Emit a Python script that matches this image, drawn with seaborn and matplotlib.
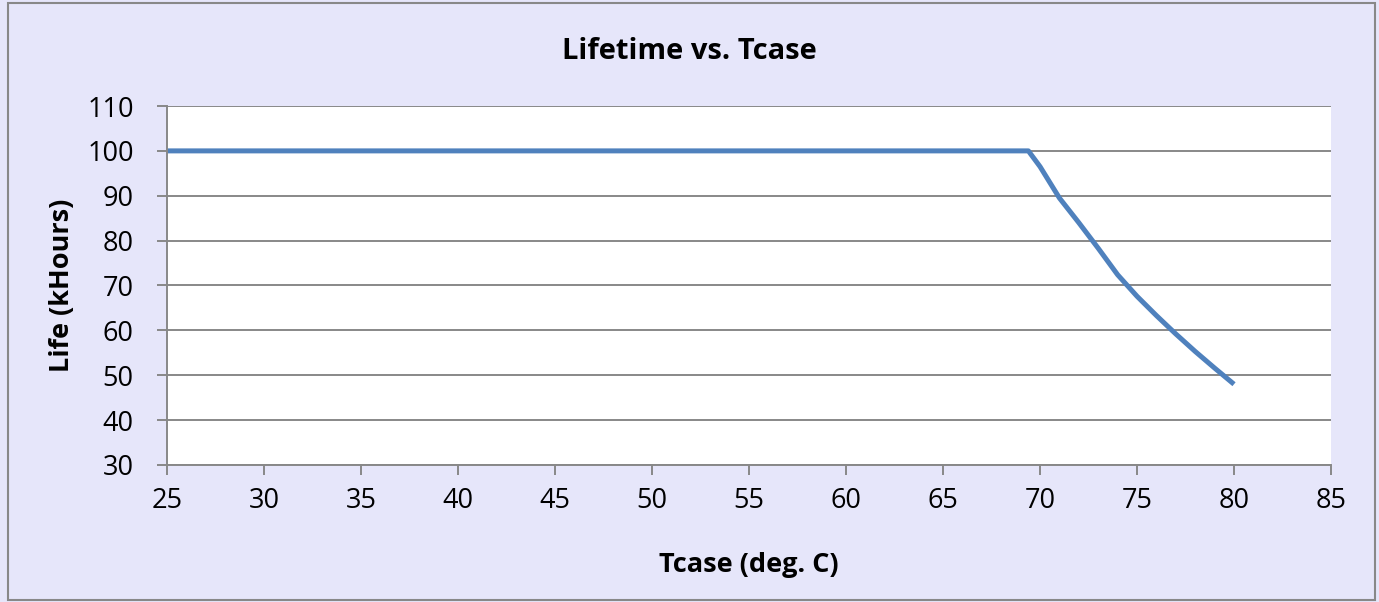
import matplotlib.pyplot as plt
import seaborn as sns
import pandas as pd
from matplotlib.patches import Rectangle

# values
tcase = [25, 30, 35, 40, 45, 50, 55, 60, 65, 69.4,
         70, 71, 72, 73, 74, 75, 76, 77, 78, 79, 80]
life = [100, 100, 100, 100, 100, 100, 100, 100, 100, 100,
        96.5, 89.5, 84, 78.3, 72.4, 67.6, 63.3, 59.2, 55.3, 51.6, 48]
x_ticks = [25, 30, 35, 40, 45, 50, 55, 60, 65, 70, 75, 80, 85]
y_ticks = [30, 40, 50, 60, 70, 80, 90, 100, 110]

df = pd.DataFrame({'Tcase': tcase, 'Life': life})

sns.set_style('white')
plt.rcParams['font.family'] = ['Open Sans', 'DejaVu Sans']

bg = '#E6E6FA'
gray = '#888888'

fig = plt.figure(figsize=(13.79, 6.02), dpi=100, facecolor=bg)
ax = fig.add_axes([0.1211, 0.2276, 0.8441, 0.5963])
ax.set_facecolor('white')

sns.lineplot(data=df, x='Tcase', y='Life', ax=ax, color='#4F81BD',
             linewidth=3.6, solid_capstyle='butt')

ax.set_xlim(25, 85)
ax.set_ylim(30, 110)
ax.set_xticks(x_ticks)
ax.set_yticks(y_ticks)
ax.tick_params(axis='both', labelsize=19.5, labelcolor='black', direction='out',
               length=7, width=1.4, color=gray, bottom=True, left=True)
ax.tick_params(axis='y', pad=17)
ax.tick_params(axis='x', pad=9)
ax.yaxis.grid(True, color=gray, linewidth=1.4)
ax.set_axisbelow(True)

for s in ['top', 'right']:
    ax.spines[s].set_visible(False)
for s in ['left', 'bottom']:
    ax.spines[s].set_color(gray)
    ax.spines[s].set_linewidth(1.4)

ax.set_xlabel('Tcase (deg. C)', fontsize=19.5, fontweight='bold', color='black',
              va='center')
ax.set_ylabel('Life (kHours)', fontsize=19.5, fontweight='bold', color='black',
              va='center', ha='center')
ax.xaxis.set_label_coords(0.5, -0.279)
ax.yaxis.set_label_coords(-0.0902, 0.5)
fig.text(0.5, 0.914, 'Lifetime vs. Tcase', ha='center', va='center',
         fontsize=21, fontweight='bold', color='black')

fig.patches.append(Rectangle((0.006, 0.003), 0.991, 0.992, transform=fig.transFigure,
                             fill=False, edgecolor=gray, linewidth=1.5))

fig.savefig('out.png', dpi=100, facecolor=bg)
